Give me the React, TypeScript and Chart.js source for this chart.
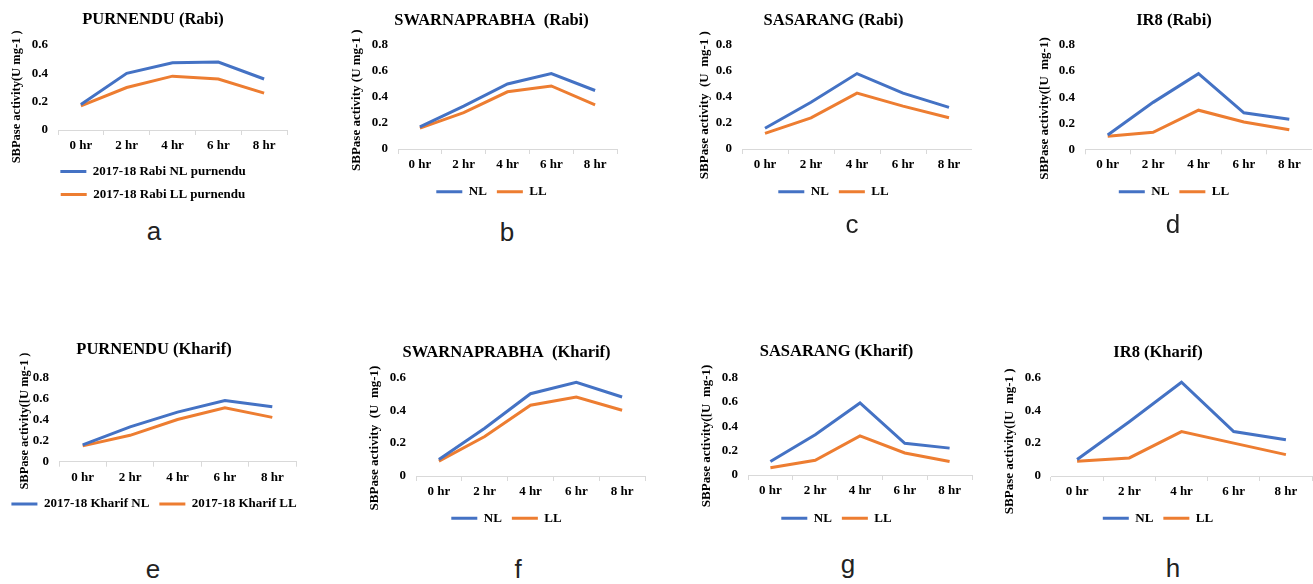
import React, { useEffect, useRef } from "react";
import { Chart, registerables } from "chart.js";

Chart.register(...registerables);

// ---------- data ----------
const timeLabels = ["0 hr", "2 hr", "4 hr", "6 hr", "8 hr"];

const purnenduRabiNL = [0.18, 0.4, 0.475, 0.48, 0.36];
const purnenduRabiLL = [0.17, 0.3, 0.38, 0.36, 0.26];
const swarnaRabiNL = [0.17, 0.33, 0.5, 0.58, 0.45];
const swarnaRabiLL = [0.16, 0.28, 0.44, 0.485, 0.34];
const sasarangRabiNL = [0.16, 0.36, 0.58, 0.43, 0.32];
const sasarangRabiLL = [0.12, 0.24, 0.43, 0.33, 0.24];
const ir8RabiNL = [0.11, 0.36, 0.58, 0.28, 0.23];
const ir8RabiLL = [0.1, 0.13, 0.3, 0.21, 0.15];

const purnenduKharifNL = [0.16, 0.33, 0.47, 0.58, 0.52];
const purnenduKharifLL = [0.15, 0.25, 0.4, 0.51, 0.42];
const swarnaKharifNL = [0.1, 0.29, 0.5, 0.57, 0.48];
const swarnaKharifLL = [0.09, 0.24, 0.43, 0.48, 0.4];
const sasarangKharifNL = [0.11, 0.33, 0.59, 0.26, 0.22];
const sasarangKharifLL = [0.06, 0.12, 0.32, 0.18, 0.11];
const ir8KharifNL = [0.1, 0.33, 0.57, 0.27, 0.22];
const ir8KharifLL = [0.09, 0.11, 0.27, 0.2, 0.13];

const panelTitles = [
  "PURNENDU (Rabi)",
  "SWARNAPRABHA  (Rabi)",
  "SASARANG (Rabi)",
  "IR8 (Rabi)",
  "PURNENDU (Kharif)",
  "SWARNAPRABHA  (Kharif)",
  "SASARANG (Kharif)",
  "IR8 (Kharif)",
];
const yAxisTitles = [
  "SBPase activity(U mg-1 )",
  "SBPase activity (U mg-1 )",
  "SBPase activity  (U  mg-1 )",
  "SBPase activity([U  mg-1)",
  "SBPase activity([U mg-1 )",
  "SBPase activity  (U  mg-1)",
  "SBPase activity([U  mg-1)",
  "SBPase activity([U  mg-1 )",
];
const nlNames = ["2017-18 Rabi NL purnendu", "NL", "NL", "NL", "2017-18 Kharif NL", "NL", "NL", "NL"];
const llNames = ["2017-18 Rabi LL purnendu", "LL", "LL", "LL", "2017-18 Kharif LL", "LL", "LL", "LL"];
const yMaxima = [0.6, 0.8, 0.8, 0.8, 0.8, 0.6, 0.8, 0.6];
const panelLetters = ["a", "b", "c", "d", "e", "f", "g", "h"];
const nlSeries = [purnenduRabiNL, swarnaRabiNL, sasarangRabiNL, ir8RabiNL, purnenduKharifNL, swarnaKharifNL, sasarangKharifNL, ir8KharifNL];
const llSeries = [purnenduRabiLL, swarnaRabiLL, sasarangRabiLL, ir8RabiLL, purnenduKharifLL, swarnaKharifLL, sasarangKharifLL, ir8KharifLL];

// ---------- layout (page pixels) ----------
type Geo = {
  titleX: number; titleY: number; legendX: number; legendY: number; rows: number;
  plotL: number; plotR: number; plotT: number; plotB: number; yTitleX: number; minW: number;
  letterX: number; letterBase: number; yTitleSize: number; yTitleShift: number;
};
const geos: Geo[] = [
  { titleX: 150, titleY: 20, legendX: 156, legendY: 171.5, rows: 2, plotL: 58, plotR: 287, plotT: 45, plotB: 130, yTitleX: 16.7, minW: 0, letterX: 154, letterBase: 240, yTitleSize: 12.5, yTitleShift: 6 },
  { titleX: 490, titleY: 20.7, legendX: 492.5, legendY: 191.7, rows: 1, plotL: 398, plotR: 617, plotT: 45, plotB: 149, yTitleX: 356.7, minW: 0, letterX: 507, letterBase: 240.7, yTitleSize: 13, yTitleShift: 2 },
  { titleX: 833, titleY: 20.7, legendX: 834, legendY: 191.7, rows: 1, plotL: 742, plotR: 972, plotT: 45, plotB: 149, yTitleX: 705, minW: 0, letterX: 852, letterBase: 233, yTitleSize: 13, yTitleShift: 5 },
  { titleX: 1173, titleY: 20.7, legendX: 1175, legendY: 191.7, rows: 1, plotL: 1085, plotR: 1312, plotT: 45, plotB: 149.3, yTitleX: 1045, minW: 0, letterX: 1173, letterBase: 233, yTitleSize: 13, yTitleShift: 7 },
  { titleX: 153, titleY: 350, legendX: 155, legendY: 504, rows: 1, plotL: 59, plotR: 296, plotT: 377.3, plotB: 461.7, yTitleX: 25, minW: 316, letterX: 153, letterBase: 578, yTitleSize: 12.5, yTitleShift: 1 },
  { titleX: 505, titleY: 353, legendX: 508, legendY: 518.3, rows: 1, plotL: 416, plotR: 645, plotT: 377.3, plotB: 476, yTitleX: 375, minW: 0, letterX: 518, letterBase: 578, yTitleSize: 13, yTitleShift: 7 },
  { titleX: 835, titleY: 352, legendX: 838, legendY: 518.3, rows: 1, plotL: 748, plotR: 972, plotT: 377.3, plotB: 475, yTitleX: 706.7, minW: 0, letterX: 848, letterBase: 573, yTitleSize: 13, yTitleShift: 6 },
  { titleX: 1157, titleY: 353, legendX: 1158.5, legendY: 518.3, rows: 1, plotL: 1051, plotR: 1312, plotT: 377.3, plotB: 476, yTitleX: 1010, minW: 0, letterX: 1173, letterBase: 577, yTitleSize: 13, yTitleShift: 9 },
];

const SERIF = "'Liberation Serif', 'Times New Roman', serif";
const NL_COLOR = "#4472C4";
const LL_COLOR = "#ED7D31";
const TITLE_SIZE = 16.5;
const TICK_SIZE = 13;
const LEGEND_SIZE = 13;
const LEGEND_PAD = 10;

function computeGeometry(g: Geo) {
  const T = (g.titleX + g.legendX) / 2;
  const yHalf = (g.yTitleSize * 1.2) / 2;
  const tHalf = (TITLE_SIZE * 1.2) / 2;
  let cx = Math.min(g.yTitleX - yHalf, 2 * T - g.plotR, T - g.minW / 2);
  cx = Math.floor(cx);
  const cw = Math.round(2 * (T - cx));
  const rightW = cx + cw - g.plotR;
  const yAxisW = g.plotL - cx;
  const yTitlePad = g.yTitleX - yHalf - cx;
  const cy = Math.floor(g.titleY - tHalf - 4);
  const titlePadTop = g.titleY - tHalf - cy;
  const titlePadBottom = g.plotT - (g.titleY + tHalf);
  const legendTop = g.legendY - LEGEND_PAD - LEGEND_SIZE / 2;
  const xAxisH = legendTop - g.plotB;
  const legendBottom = legendTop + g.rows * (LEGEND_SIZE + LEGEND_PAD) + 10;
  const ch = Math.ceil(legendBottom - cy) + 1;
  const padBottom = ch - (legendBottom - cy);
  return { cx, cw, cy, ch, rightW, yAxisW, yTitlePad, titlePadTop, titlePadBottom, xAxisH, padBottom };
}

function PanelChart({ idx }: { idx: number }) {
  const ref = useRef<HTMLCanvasElement>(null);
  const geo = geos[idx];
  const g = computeGeometry(geo);
  useEffect(() => {
    const font = (size: number) => ({ family: SERIF, size, weight: "bold" as const });
    // trailing spaces nudge the centred rotated title toward the bottom, as in the original
    const yTitleText = yAxisTitles[idx] + " ".repeat(geo.yTitleShift);
    const scales: any = {
      x: {
        offset: true,
        grid: { display: true, drawOnChartArea: false, drawTicks: true, tickLength: 5, offset: true, color: "#d9d9d9" },
        border: { display: true, color: "#d9d9d9", width: 1 },
        ticks: { color: "#000", font: font(TICK_SIZE), padding: 3, maxRotation: 0, autoSkip: false },
        afterFit: (s: any) => { s.height = g.xAxisH; },
      },
      y: {
        min: 0,
        max: yMaxima[idx],
        grid: { display: false, drawTicks: false },
        border: { display: false },
        ticks: { stepSize: 0.2, padding: 10, color: "#000", font: font(TICK_SIZE) },
        title: {
          display: true,
          text: yTitleText,
          color: "#000",
          font: font(geo.yTitleSize),
          padding: { top: g.yTitlePad, bottom: 0 },
        },
        afterFit: (s: any) => { s.width = g.yAxisW; },
      },
    };
    if (g.rightW >= 1) {
      scales.yR = {
        type: "linear",
        axis: "y",
        position: "right",
        display: true,
        grid: { display: false, drawTicks: false },
        border: { display: false },
        ticks: { display: false },
        afterFit: (s: any) => { s.width = g.rightW; },
      };
    }
    const chart = new Chart(ref.current as HTMLCanvasElement, {
      type: "line",
      data: {
        labels: timeLabels,
        datasets: [
          { label: nlNames[idx], data: nlSeries[idx], borderColor: NL_COLOR, backgroundColor: NL_COLOR, borderWidth: 3, pointRadius: 0, tension: 0, yAxisID: "y" },
          { label: llNames[idx], data: llSeries[idx], borderColor: LL_COLOR, backgroundColor: LL_COLOR, borderWidth: 3, pointRadius: 0, tension: 0, yAxisID: "y" },
        ],
      },
      options: {
        responsive: false,
        animation: false,
        devicePixelRatio: 1,
        events: [],
        layout: { padding: { left: 0, right: 0, top: 0, bottom: g.padBottom } },
        plugins: {
          title: {
            display: true,
            text: panelTitles[idx],
            color: "#000",
            font: font(TITLE_SIZE),
            padding: { top: g.titlePadTop, bottom: g.titlePadBottom },
          },
          legend: {
            display: true,
            position: "bottom",
            labels: {
              usePointStyle: true,
              pointStyle: "line",
              pointStyleWidth: 26,
              color: "#000",
              font: font(LEGEND_SIZE),
              padding: LEGEND_PAD,
            },
          },
          tooltip: { enabled: false },
        },
        scales,
      } as any,
    });
    return () => chart.destroy();
  }, []);
  return (
    <canvas
      ref={ref}
      width={g.cw}
      height={g.ch}
      style={{ position: "absolute", left: g.cx, top: g.cy, width: g.cw, height: g.ch }}
    />
  );
}

const LETTER_SIZE = 26;

export default function App() {
  return (
    <div
      style={{
        position: "fixed",
        left: 0,
        top: 0,
        width: 1313,
        height: 584,
        background: "#fff",
        overflow: "hidden",
      }}
    >
      {geos.map((_, i) => (
        <PanelChart key={i} idx={i} />
      ))}
      {geos.map((g, i) => (
        <div
          key={"l" + i}
          style={{
            position: "absolute",
            left: g.letterX,
            top: g.letterBase - 0.8465 * LETTER_SIZE,
            transform: "translateX(-50%)",
            fontFamily: "'Liberation Sans', Arial, sans-serif",
            fontSize: LETTER_SIZE,
            lineHeight: 1,
            color: "#222",
            whiteSpace: "nowrap",
          }}
        >
          {panelLetters[i]}
        </div>
      ))}
    </div>
  );
}
